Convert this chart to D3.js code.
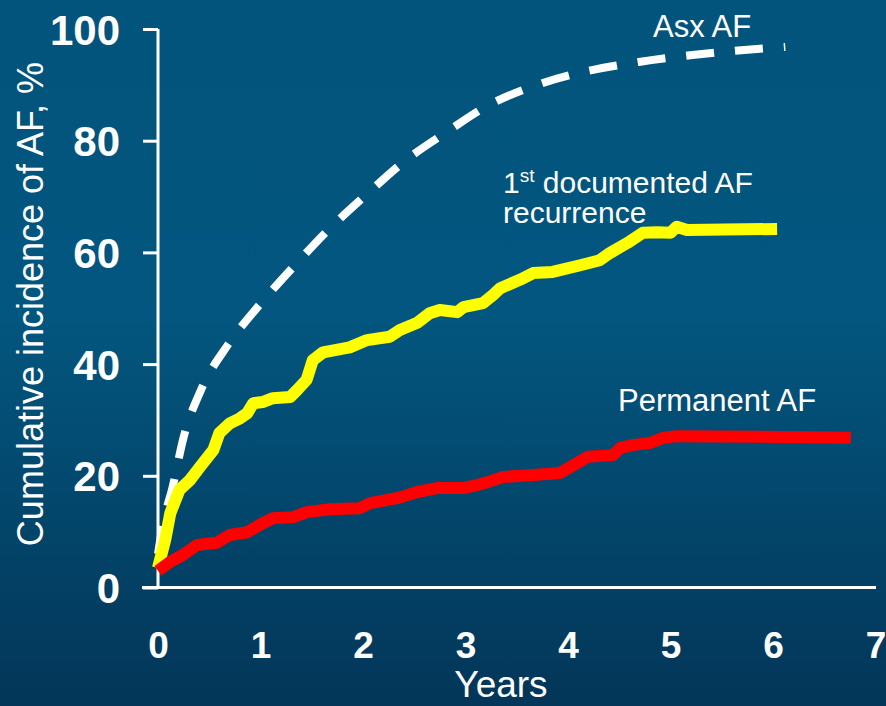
<!DOCTYPE html>
<html>
<head>
<meta charset="utf-8">
<script src="https://cdn.jsdelivr.net/npm/d3@7/dist/d3.min.js"></script>
<style>
  html, body { margin: 0; padding: 0; background: #03507a; }
  svg { display: block; }
  text { font-family: "Liberation Sans", Arial, Helvetica, sans-serif; fill: #ffffff; }
</style>
</head>
<body>
<svg id="chart" width="886" height="706"></svg>
<script>
// Cumulative incidence of AF over follow-up (years, %)
const xTicks = [0, 1, 2, 3, 4, 5, 6, 7];
const yTicks = [0, 20, 40, 60, 80, 100];

// Asymptomatic AF (dashed)
const asxYears = [0, 0.05, 0.14, 0.25, 0.42, 0.68, 0.99, 1.32, 1.66, 2.03, 2.41, 2.82, 3.23, 3.70, 4.69, 5.19, 5.69, 6.12];
const asxPct   = [6, 11.5, 17.8, 26.9, 35.4, 43.4, 50.6, 57.4, 64.0, 70.3, 76.4, 81.6, 86.4, 90.0, 94.1, 95.3, 96.2, 96.8];

// 1st documented AF recurrence
const recYears = [0, 0.07, 0.12, 0.21, 0.31, 0.41, 0.54, 0.60, 0.70, 0.80, 0.87, 0.93, 1.02, 1.12, 1.29, 1.36, 1.45, 1.51, 1.61, 1.87, 2.04, 2.26, 2.36, 2.53, 2.65, 2.75, 2.92, 2.98, 3.17, 3.27, 3.34, 3.53, 3.66, 3.85, 4.12, 4.31, 4.41, 4.58, 4.73, 4.87, 5.0, 5.06, 5.16, 6.04];
const recPct   = [3.5, 8.5, 13.3, 17.5, 19.2, 21.6, 24.6, 27.7, 29.4, 30.3, 31.2, 33.0, 33.2, 33.9, 34.1, 35.4, 37.2, 40.7, 42.1, 43.0, 44.3, 44.9, 46.1, 47.4, 49.1, 49.7, 49.3, 50.2, 50.9, 52.4, 53.6, 55.1, 56.3, 56.5, 57.7, 58.6, 59.9, 61.7, 63.5, 63.6, 63.5, 64.6, 64.0, 64.2];

// Permanent AF
const permYears = [0, 0.12, 0.24, 0.38, 0.57, 0.70, 0.87, 1.02, 1.12, 1.32, 1.45, 1.68, 1.97, 2.07, 2.33, 2.53, 2.72, 2.98, 3.17, 3.37, 3.63, 3.92, 4.09, 4.19, 4.44, 4.51, 4.63, 4.80, 4.93, 5.06, 5.90, 6.76];
const permPct   = [3.0, 4.6, 5.8, 7.6, 8.0, 9.4, 9.9, 11.5, 12.4, 12.6, 13.5, 14.0, 14.2, 15.1, 16.0, 17.1, 17.8, 17.8, 18.6, 19.8, 20.1, 20.5, 22.3, 23.4, 23.7, 25.0, 25.5, 25.9, 26.8, 27.1, 27.0, 26.8];

const svg = d3.select("#chart");
const W = 886, H = 706;

// background
const defs = svg.append("defs");
const grad = defs.append("linearGradient").attr("id", "bg").attr("x1", 0).attr("y1", 0).attr("x2", 0).attr("y2", 1);
grad.append("stop").attr("offset", "0%").attr("stop-color", "#02547c");
grad.append("stop").attr("offset", "45%").attr("stop-color", "#03567f");
grad.append("stop").attr("offset", "100%").attr("stop-color", "#033658");
svg.append("rect").attr("width", W).attr("height", H).attr("fill", "url(#bg)");

const x = d3.scaleLinear().domain([0, 7]).range([158, 875.5]);
const y = d3.scaleLinear().domain([0, 100]).range([587.5, 29]);

// y axis
const yAxis = svg.append("g").attr("transform", "translate(158,0)")
  .call(d3.axisLeft(y).tickValues(yTicks).tickSize(15).tickPadding(23).tickFormat(d3.format("d")));
yAxis.select(".domain").attr("stroke", "#fff").attr("stroke-width", 3).attr("d", `M0,${y(100)}V${y(0)}`);
yAxis.selectAll(".tick line").attr("stroke", "#fff").attr("stroke-width", 3);
yAxis.selectAll(".tick text")
  .attr("fill", "#fff").attr("font-size", 42).attr("font-weight", "bold")
  .attr("font-family", "Liberation Sans, Arial, sans-serif")
  .attr("dy", "0.36em");

// x axis (no tick marks)
const xAxis = svg.append("g").attr("transform", `translate(0,${y(0)})`)
  .call(d3.axisBottom(x).tickValues(xTicks).tickSize(0).tickPadding(0).tickFormat(d3.format("d")));
xAxis.select(".domain").attr("stroke", "#fff").attr("stroke-width", 3).attr("d", `M142,0H876`);
xAxis.selectAll(".tick text")
  .attr("fill", "#fff").attr("font-size", 37).attr("font-weight", "bold")
  .attr("font-family", "Liberation Sans, Arial, sans-serif")
  .attr("dy", null).attr("y", 70.5);

// axis titles
svg.append("text").attr("transform", "translate(43,304) rotate(-90)")
  .attr("text-anchor", "middle").attr("font-size", 36)
  .text("Cumulative incidence of AF, %");
svg.append("text").attr("x", 501).attr("y", 697)
  .attr("text-anchor", "middle").attr("font-size", 37)
  .text("Years");

const line = d3.line().x(d => x(d[0])).y(d => y(d[1]));
const smooth = d3.line().x(d => x(d[0])).y(d => y(d[1])).curve(d3.curveMonotoneX);
const zipPts = (a, b) => a.map((v, i) => [v, b[i]]);

// curves
svg.append("path").datum(zipPts(asxYears, asxPct))
  .attr("d", smooth).attr("fill", "none").attr("stroke", "#ffffff")
  .attr("stroke-width", 8).attr("stroke-dasharray", "28,21").attr("stroke-linecap", "butt");

svg.append("path").datum(zipPts(recYears, recPct))
  .attr("d", line).attr("fill", "none").attr("stroke", "#ffff00")
  .attr("stroke-width", 12).attr("stroke-linejoin", "round").attr("stroke-linecap", "butt");

svg.append("path").datum(zipPts(permYears, permPct))
  .attr("d", line).attr("fill", "none").attr("stroke", "#ff0000")
  .attr("stroke-width", 12).attr("stroke-linejoin", "round").attr("stroke-linecap", "butt");

// curve labels
svg.append("text").attr("x", 653).attr("y", 37).attr("font-size", 31).text("Asx AF");
const rec = svg.append("text").attr("x", 503).attr("y", 193).attr("font-size", 30);
rec.append("tspan").text("1");
rec.append("tspan").attr("font-size", 19).attr("dy", -11).text("st");
rec.append("tspan").attr("dy", 11).text(" documented AF");
svg.append("text").attr("x", 503).attr("y", 223).attr("font-size", 30).text("recurrence");
svg.append("text").attr("x", 618).attr("y", 411).attr("font-size", 31).text("Permanent AF");
</script>
</body>
</html>
